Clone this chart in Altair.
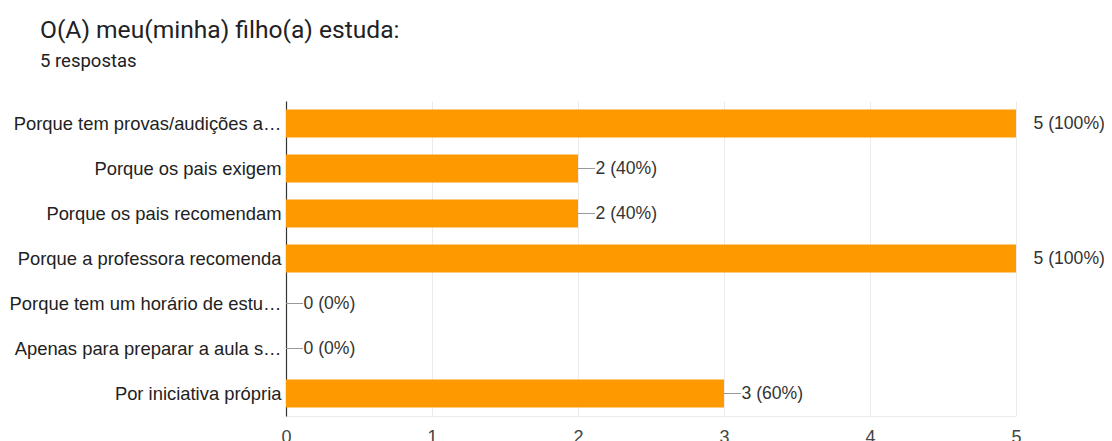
import altair as alt
import pandas as pd

categories = [
    "Porque tem provas/audições a…",
    "Porque os pais exigem",
    "Porque os pais recomendam",
    "Porque a professora recomenda",
    "Porque tem um horário de estu…",
    "Apenas para preparar a aula s…",
    "Por iniciativa própria",
]
counts = [5, 2, 2, 5, 0, 0, 3]
total = 5

df = pd.DataFrame({"cat": categories, "n": counts})
df["label"] = [f"{n} ({round(100 * n / total)}%)" for n in counts]

y = alt.Y("cat:N", sort=categories, title=None,
          scale=alt.Scale(paddingInner=0.38, paddingOuter=0.19),
          axis=alt.Axis(labelFont="Liberation Sans", labelFontSize=18.4, labelColor="#222222",
                        labelPadding=5, ticks=False, domainColor="#333333", domainWidth=1.2,
                        labelLimit=400))
x = alt.X("n:Q", title=None, scale=alt.Scale(domain=[0, 5], nice=False),
          axis=alt.Axis(values=[0, 1, 2, 3, 4, 5], format="d", labelFont="Liberation Sans",
                        labelFontSize=18, labelColor="#444444", labelPadding=12, ticks=False,
                        domainColor="#ebebeb", gridColor="#ebebeb", labelFlush=False))

base = alt.Chart(df)
bars = base.mark_bar(color="#ff9900").encode(x=x, y=y)
leaders = base.mark_rule(color="#999999", strokeWidth=1, x2Offset=17, clip=True).encode(
    x="n:Q", x2="n:Q", y=alt.Y("cat:N", sort=categories))
texts = base.mark_text(align="left", dx=17.5, font="Liberation Sans", fontSize=17.6,
                       color="#333333").encode(
    x="n:Q", y=alt.Y("cat:N", sort=categories), text="label:N")

chart = (bars + leaders + texts).properties(
    width=730, height=315,
    padding={"left": 278, "top": 93, "right": 88, "bottom": 30},
    autosize=alt.AutoSizeParams(type="none"),
    title=alt.TitleParams(
        text="O(A) meu(minha) filho(a) estuda:",
        subtitle="5 respostas",
        anchor="start", frame="group", dx=-246, offset=30,
        font="Roboto", fontSize=24.6, fontWeight="normal", color="#202124",
        subtitleFont="Roboto", subtitleFontSize=18.5, subtitleColor="#202124",
        subtitlePadding=8),
).configure_view(stroke=None)

chart.save("out.html", embed_options={"renderer": "svg", "actions": False})
